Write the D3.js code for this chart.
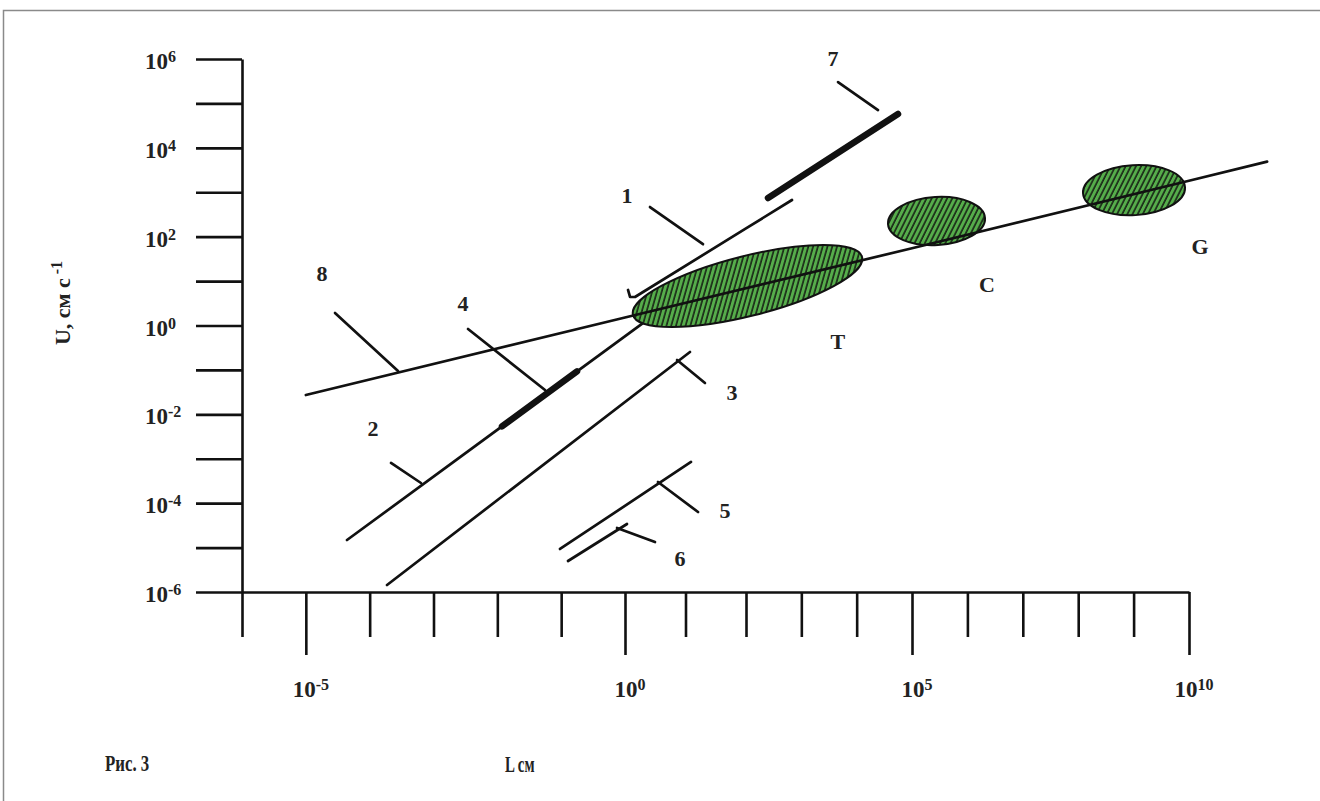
<!DOCTYPE html>
<html>
<head>
<meta charset="utf-8">
<script src="https://cdn.jsdelivr.net/npm/d3@7"></script>
<style>
  body { margin: 0; background: #fff; }
  svg { display: block; }
  text { font-family: "Liberation Serif", "Times New Roman", serif; font-weight: bold; fill: #222; }
</style>
</head>
<body>
<svg id="chart" width="1320" height="801"></svg>
<script>
// ---- tick decades (log10 exponents) ----
const xTickExps  = [-6, -5, -4, -3, -2, -1, 0, 1, 2, 3, 4, 5, 6, 7, 8, 9, 10];
const xLabelExps = [-5, 0, 5, 10];
const yTickExps  = [-6, -5, -4, -3, -2, -1, 0, 1, 2, 3, 4, 5, 6];
const yLabelExps = [-6, -4, -2, 0, 2, 4, 6];

// ---- curves: [log10 L, log10 U] ----
const line1 = [[0.05, 0.80], [0.083, 0.642], [0.165, 0.642], [2, 2.186], [2.831, 2.825]];
const line2 = [[-4.355, -4.83], [0.33, 0.088]];
const line3 = [[-3.728, -5.842], [1.074, -0.597]];
const line4 = [[-1.927, -2.271], [-0.752, -1.033]];           // thick segment on line 2
const line5 = [[-1.018, -5.031], [1.091, -3.073]];
const line6 = [[-0.893, -5.302], [0.033, -4.469]];
const line7 = [[2.398, 2.87], [4.747, 4.761]];                // thick segment
const line8 = [[-5, -1.565], [0, 0.18], [5, 1.74], [10, 3.26], [11.41, 3.69]];

// ---- regions: major-axis ends [log10 L, log10 U] and half width (decades of U) ----
const regionNames = ["T", "C", "G"];
const regionEnds  = [
  [[0.132, 0.236], [4.097, 1.542]],
  [[4.566, 2.285], [6.318, 2.42]],
  [[8.087, 2.98],  [9.928, 3.114]]
];
const regionHalfWidth = [0.675, 0.54, 0.563];
const regionLabelAt   = [[3.66, -0.35], [6.354, 0.923], [10.199, 1.79]];

// ---- curve labels and leader lines ----
const curveNames   = ["1", "2", "3", "4", "5", "6", "7", "8"];
const curveLabelAt = [[0.033, 2.94], [-3.948, -2.31], [1.769, -1.497], [-2.538, 0.51],
                      [1.653, -4.154], [0.909, -5.234], [3.572, 6.02], [-4.747, 1.18]];
const leaders = [
  [[0.413, 2.667], [1.289, 1.83]],
  [[-3.666, -3.095], [-3.196, -3.546]],
  [[0.86, -0.777], [1.322, -1.294]],
  [[-2.459, -0.079], [-1.253, -1.452]],
  [[0.545, -3.523], [1.207, -4.199]],
  [[-0.125, -4.559], [0.496, -4.874]],
  [[3.663, 5.48], [4.386, 4.85]],
  [[-4.543, 0.281], [-3.556, -1.024]]
];

// ---- scales (hand-drawn axis: uneven decade spacing along L) ----
const x = d3.scaleLog().domain([1e-6, 1, 1e2, 1e5, 1e10]).range([242, 625, 746, 912, 1189]);
const y = d3.scaleLog().domain([1e-6, 1e6]).range([592, 59]);
const px = d => x(Math.pow(10, d[0]));
const py = d => y(Math.pow(10, d[1]));
const decadePx = y(1) - y(10);

const svg = d3.select("#chart");
const ink = "#111";

// frame
svg.append("rect").attr("x", 3.5).attr("y", 10.5).attr("width", 1330).attr("height", 800)
  .attr("fill", "none").attr("stroke", "#8a8a8a").attr("stroke-width", 1.5);

// hatch pattern
const defs = svg.append("defs");
const pat = defs.append("pattern").attr("id", "hatch").attr("patternUnits", "userSpaceOnUse")
  .attr("width", 4.6).attr("height", 10).attr("patternTransform", "rotate(30)");
pat.append("rect").attr("width", 4.6).attr("height", 10).attr("fill", "#56ad4b");
pat.append("line").attr("x1", 1).attr("y1", 0).attr("x2", 1).attr("y2", 10)
  .attr("stroke", "#1b2a18").attr("stroke-width", 1.7);

// axes
const yAxis = svg.append("g").attr("transform", `translate(${x(1e-6)},0)`)
  .call(d3.axisLeft(y).tickValues(yTickExps.map(e => Math.pow(10, e)))
        .tickSize(46).tickSizeOuter(0).tickFormat(""));
const xAxis = svg.append("g").attr("transform", `translate(0,${y(1e-6)})`)
  .call(d3.axisBottom(x).tickValues(xTickExps.map(e => Math.pow(10, e)))
        .tickSize(45).tickSizeOuter(0).tickFormat(""));
xAxis.selectAll(".tick line").filter(d => xLabelExps.includes(Math.round(Math.log10(d)))).attr("y2", 63);
[yAxis, xAxis].forEach(g => {
  g.selectAll("path.domain, .tick line").attr("stroke", ink).attr("stroke-width", 2.6);
});

// tick labels
yLabelExps.forEach(e => {
  const t = svg.append("text").attr("x", 145).attr("y", y(Math.pow(10, e)) + 10)
    .style("font-size", "23px");
  t.append("tspan").text("10");
  t.append("tspan").attr("dy", -7).style("font-size", "16px").text(String(e));
});
xLabelExps.forEach(e => {
  const t = svg.append("text").attr("x", x(Math.pow(10, e)) + 5).attr("y", 697)
    .attr("text-anchor", "middle").style("font-size", "23px");
  t.append("tspan").text("10");
  t.append("tspan").attr("dy", -7).style("font-size", "16px").text(String(e));
});

// axis titles
const yt = svg.append("text").attr("transform", "translate(70,303) rotate(-90)")
  .attr("text-anchor", "middle").style("font-size", "22px");
yt.append("tspan").text("U, см с");
yt.append("tspan").attr("dx", 4).attr("dy", -8).style("font-size", "16px").text("-1");
svg.append("text").attr("transform", "translate(505,772) scale(0.62,1)").style("font-size", "24px").text("L см");
svg.append("text").attr("transform", "translate(105,771) scale(0.7,1)").style("font-size", "24px").text("Рис. 3");

const lineGen = d3.line().x(px).y(py);
const drawLine = (data, w) => svg.append("path").attr("d", lineGen(data)).attr("fill", "none")
  .attr("stroke", ink).attr("stroke-width", w).attr("stroke-linecap", "round").attr("stroke-linejoin", "round");

// lines under regions
[line1, line2, line3, line5, line6].forEach(l => drawLine(l, 2.7));
drawLine(line4, 6.5);
drawLine(line7, 6.5);

// regions
regionEnds.forEach((ends, i) => {
  const x1 = px(ends[0]), y1 = py(ends[0]), x2 = px(ends[1]), y2 = py(ends[1]);
  const cx = (x1 + x2) / 2, cy = (y1 + y2) / 2;
  const rx = Math.hypot(x2 - x1, y2 - y1) / 2;
  const ang = Math.atan2(y2 - y1, x2 - x1) * 180 / Math.PI;
  svg.append("ellipse").attr("cx", cx).attr("cy", cy).attr("rx", rx)
    .attr("ry", regionHalfWidth[i] * decadePx)
    .attr("transform", `rotate(${ang},${cx},${cy})`)
    .attr("fill", "url(#hatch)").attr("stroke", ink).attr("stroke-width", 2);
});

// line 8 on top
drawLine(line8, 2.7);

// leaders
leaders.forEach(l => drawLine(l, 2.7));

// labels
curveNames.forEach((n, i) => {
  svg.append("text").attr("x", px(curveLabelAt[i])).attr("y", py(curveLabelAt[i]))
    .attr("dy", "0.35em").attr("text-anchor", "middle").style("font-size", "22px").text(n);
});
regionNames.forEach((n, i) => {
  svg.append("text").attr("x", px(regionLabelAt[i])).attr("y", py(regionLabelAt[i]))
    .attr("dy", "0.35em").attr("text-anchor", "middle").style("font-size", "22px").text(n);
});
</script>
</body>
</html>
